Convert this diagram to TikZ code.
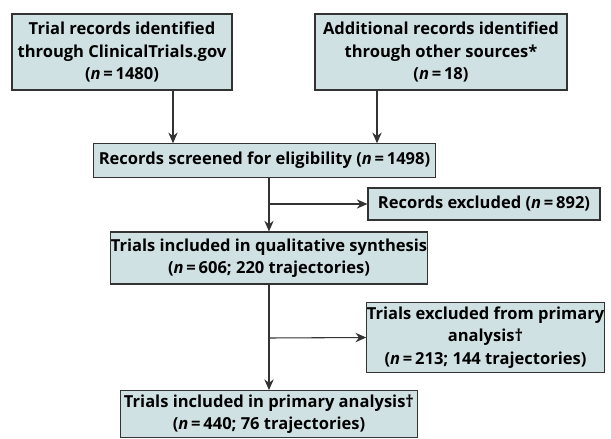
\documentclass[tikz,border=0pt]{standalone}
\usepackage{fontspec}
\setmainfont{Open Sans}
\usepackage{xcolor}
\usetikzlibrary{arrows.meta,calc,positioning}
\definecolor{boxfill}{HTML}{D0E1E4}
\definecolor{boxline}{HTML}{333333}

\begin{document}
\begin{tikzpicture}[x=0.75pt,y=-0.75pt,
    box/.style={draw=boxline,fill=boxfill,line width=0.9pt,align=center,
      inner sep=0pt,font=\fontsize{12.4}{16.8}\selectfont\bfseries},
    arr/.style={draw=boxline,line width=0.8pt,-{Stealth[length=8pt,width=7pt]}}]
  \useasboundingbox (0,0) rectangle (611,439);

  \node[box,minimum width=165pt,minimum height=57pt] (b1) at (122,52)
    {Trial records identified\\through ClinicalTrials.gov\\(\textit{n}\,=\,1480)};
  \node[box,minimum width=189pt,minimum height=57pt] (b2) at (441,52)
    {Additional records identified\\through other sources*\\(\textit{n}\,=\,18)};
  \node[box,minimum width=257pt,minimum height=25pt] (b3) at (264.5,160.5)
    {Records screened for eligibility (\textit{n}\,=\,1498)};
  \node[box,minimum width=174pt,minimum height=24pt] (b4) at (484,204)
    {Records excluded (\textit{n}\,=\,892)};
  \node[box,minimum width=238pt,minimum height=39pt] (b5) at (269,258)
    {Trials included in qualitative synthesis\\(\textit{n}\,=\,606; 220 trajectories)};
  \node[box,minimum width=176pt,minimum height=53pt] (b6) at (485.5,337.5)
    {Trials excluded from primary\\analysis\textdagger\\(\textit{n}\,=\,213; 144 trajectories)};
  \node[box,minimum width=223pt,minimum height=35pt] (b7) at (269,414)
    {Trials included in primary analysis\textdagger\\(\textit{n}\,=\,440; 76 trajectories)};

  \coordinate (j1) at (173,0);
  \coordinate (j2) at (377,0);
  \coordinate (m1) at (269,204);
  \coordinate (m2) at (269,338);

  \draw[arr] (b1.south -| j1) -- (b3.north -| j1);
  \draw[arr] (b2.south -| j2) -- (b3.north -| j2);
  \draw[arr] (b3.south -| m1) -- (b5.north -| m1);
  \draw[arr] (m1) -- (b4.west);
  \draw[arr] (b5.south -| m2) -- (b7.north -| m2);
  \draw[arr] (m2) -- (b6.west);
\end{tikzpicture}
\end{document}
